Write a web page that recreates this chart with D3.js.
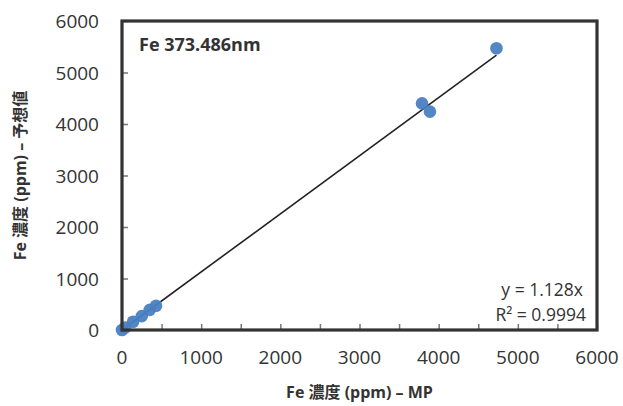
<!DOCTYPE html>
<html>
<head>
<meta charset="utf-8">
<script src="https://cdn.jsdelivr.net/npm/d3@7"></script>
<style>
  html, body { margin: 0; padding: 0; background: #fff; }
  svg { display: block; }
  text { font-family: "Open Sans", "Noto Sans CJK JP", sans-serif; fill: #333; }
</style>
</head>
<body>
<svg id="chart" width="623" height="406"></svg>
<script>
// Measured Fe concentration (MP) vs predicted value, ppm
const mpValues = [0, 40, 140, 250, 350, 430, 3790, 3890, 4730];
const predictedValues = [0, 50, 160, 270, 390, 470, 4400, 4240, 5470];
const xTicks = [0, 1000, 2000, 3000, 4000, 5000, 6000];
const yTicks = [0, 1000, 2000, 3000, 4000, 5000, 6000];
const slope = 1.128;
const rSquared = "0.9994";
const titleText = "Fe 373.486nm";
const xTitle = "Fe 濃度 (ppm) – MP";
const yTitle = "Fe 濃度 (ppm) – 予想値";

const svg = d3.select("#chart");
const plot = { left: 122, top: 21, right: 597, bottom: 330 };

const x = d3.scaleLinear().domain([0, 6000]).range([plot.left, plot.right]);
const y = d3.scaleLinear().domain([0, 6000]).range([plot.bottom, plot.top]);

// inward tick marks
const xAxis = d3.axisTop(x).tickValues(d3.range(0, 6001, 500)).tickSize(6).tickFormat("");
const yAxis = d3.axisRight(y).tickValues(yTicks).tickSize(6).tickFormat("");

svg.append("g").attr("transform", `translate(0,${plot.bottom})`).call(xAxis)
  .call(g => g.select(".domain").remove())
  .call(g => g.selectAll("line").attr("stroke", "#777").attr("stroke-width", 1.5));
svg.append("g").attr("transform", `translate(${plot.left},0)`).call(yAxis)
  .call(g => g.select(".domain").remove())
  .call(g => g.selectAll("line").attr("stroke", "#777").attr("stroke-width", 1.5));

// tick labels
svg.append("g").selectAll("text").data(xTicks).join("text")
  .attr("x", d => x(d)).attr("y", 364)
  .attr("text-anchor", "middle")
  .attr("font-size", 19)
  .text(d => d);
svg.append("g").selectAll("text").data(yTicks).join("text")
  .attr("x", 99).attr("y", d => y(d) + 7)
  .attr("text-anchor", "end")
  .attr("font-size", 19)
  .text(d => d);

// trendline across the data range
const xMax = d3.max(mpValues);
svg.append("line")
  .attr("x1", x(0)).attr("y1", y(0))
  .attr("x2", x(xMax)).attr("y2", y(slope * xMax))
  .attr("stroke", "#222").attr("stroke-width", 1.6);

// data points
svg.append("g").selectAll("circle").data(mpValues).join("circle")
  .attr("cx", d => x(d))
  .attr("cy", (d, i) => y(predictedValues[i]))
  .attr("r", 6.3)
  .attr("fill", "#4a7fc1")
  .attr("fill-opacity", 0.95);

// plot frame
svg.append("rect")
  .attr("x", plot.left).attr("y", plot.top)
  .attr("width", plot.right - plot.left).attr("height", plot.bottom - plot.top)
  .attr("fill", "none").attr("stroke", "#333").attr("stroke-width", 3.2);

// chart title inside the plot
svg.append("text").attr("x", 139).attr("y", 51)
  .attr("font-size", 18).attr("font-weight", "bold").attr("fill", "#222")
  .text(titleText);

// regression equation
const eq = svg.append("g").attr("font-size", 17.5);
eq.append("text").attr("x", 583).attr("y", 296).attr("text-anchor", "end").text(`y = ${slope}x`);
eq.append("text").attr("x", 586).attr("y", 320.5).attr("text-anchor", "end").text(`R² = ${rSquared}`);

// axis titles
svg.append("text").attr("x", (plot.left + plot.right) / 2).attr("y", 398)
  .attr("text-anchor", "middle").attr("font-size", 16).attr("font-weight", "bold").attr("fill", "#222")
  .text(xTitle);
svg.append("text")
  .attr("transform", `translate(26,${(plot.top + plot.bottom) / 2}) rotate(-90)`)
  .attr("text-anchor", "middle").attr("font-size", 16).attr("font-weight", "bold").attr("fill", "#222")
  .text(yTitle);
</script>
</body>
</html>
